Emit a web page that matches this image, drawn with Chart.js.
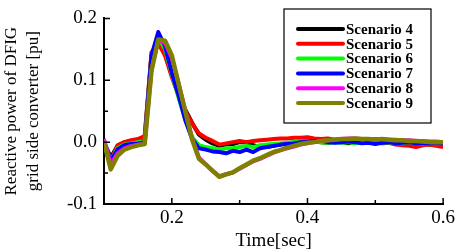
<!DOCTYPE html>
<html>
<head>
<meta charset="utf-8">
<script src="https://cdn.jsdelivr.net/npm/chart.js@4.4.1/dist/chart.umd.min.js"></script>
<style>
  html, body { margin: 0; padding: 0; background: #fff; }
  #wrap { width: 458px; height: 252px; }
</style>
</head>
<body>
<div id="wrap"><canvas id="qChart" width="458" height="252"></canvas></div>
<script>
// time axis [sec]
var timeSec = [0.10, 0.11, 0.12, 0.13, 0.14, 0.15, 0.16, 0.17, 0.18, 0.19,
               0.20, 0.21, 0.22, 0.23, 0.24, 0.25, 0.26, 0.27, 0.28, 0.29,
               0.30, 0.31, 0.32, 0.33, 0.34, 0.35, 0.36, 0.37, 0.38, 0.39,
               0.40, 0.41, 0.42, 0.43, 0.44, 0.45, 0.46, 0.47, 0.48, 0.49,
               0.50, 0.51, 0.52, 0.53, 0.54, 0.55, 0.56, 0.57, 0.58, 0.59, 0.60];

var scenarioNames = ['Scenario 4', 'Scenario 5', 'Scenario 6', 'Scenario 7', 'Scenario 8', 'Scenario 9'];
var scenarioColors = ['#000000', '#ff0000', '#00ff00', '#0000ff', '#ff00ff', '#808000'];

// reactive power of grid side converter [pu]
var scenario4 = [0.000, -0.025, -0.006, 0.000, 0.002, 0.004, 0.008, 0.140, 0.162, 0.142,
                 0.108, 0.078, 0.052, 0.031, 0.012, 0.004, -0.002, -0.006, -0.004, -0.003,
                 0.000, 0.000, -0.005, -0.008, -0.008, -0.006, -0.004, -0.002, 0.000, 0.001,
                 0.002, 0.001, 0.000, -0.001, 0.001, 0.000, -0.002, 0.000, 0.001, -0.001,
                 0.000, -0.002, -0.001, 0.000, -0.002, -0.003, -0.001, -0.002, -0.004, -0.003, -0.005];
var scenario5 = [0.000, -0.030, -0.005, 0.000, 0.003, 0.005, 0.010, 0.145, 0.160, 0.140,
                 0.105, 0.075, 0.050, 0.030, 0.014, 0.007, 0.002, -0.004, -0.002, 0.000,
                 0.002, 0.000, 0.002, 0.003, 0.004, 0.005, 0.006, 0.006, 0.007, 0.007,
                 0.008, 0.006, 0.005, 0.006, 0.004, 0.005, 0.003, 0.004, 0.002, 0.000,
                 -0.002, 0.000, -0.001, -0.004, -0.005, -0.006, -0.008, -0.005, -0.004, -0.006, -0.008];
var scenario6 = [0.000, -0.030, -0.010, -0.004, -0.002, 0.000, 0.002, 0.138, 0.170, 0.150,
                 0.110, 0.072, 0.036, 0.008, -0.005, -0.008, -0.010, -0.012, -0.010, -0.010,
                 -0.008, -0.006, -0.008, -0.005, -0.004, -0.003, -0.002, -0.001, 0.000, 0.001,
                 0.002, 0.001, 0.000, -0.001, 0.000, -0.001, 0.000, -0.002, -0.001, 0.000,
                 -0.002, -0.001, 0.000, -0.001, -0.002, 0.000, -0.001, -0.002, -0.001, -0.002, -0.001];
var scenario7 = [0.000, -0.030, -0.012, -0.005, -0.003, -0.002, 0.000, 0.140, 0.178, 0.155,
                 0.112, 0.075, 0.035, 0.005, -0.010, -0.012, -0.015, -0.016, -0.018, -0.014,
                 -0.016, -0.012, -0.016, -0.010, -0.008, -0.006, -0.004, -0.003, -0.002, 0.000,
                 0.001, 0.002, 0.002, 0.000, -0.001, 0.000, 0.001, 0.000, -0.002, -0.001,
                 -0.003, -0.001, 0.000, -0.002, -0.001, 0.000, -0.002, -0.001, -0.002, -0.001, -0.002];
var scenario8 = [0.005, -0.036, -0.018, -0.010, -0.006, -0.004, -0.002, 0.118, 0.164, 0.160,
                 0.136, 0.095, 0.050, 0.006, -0.025, -0.036, -0.047, -0.055, -0.052, -0.049,
                 -0.043, -0.037, -0.031, -0.027, -0.022, -0.017, -0.013, -0.010, -0.007, -0.004,
                 -0.002, 0.000, 0.002, 0.003, 0.004, 0.005, 0.006, 0.006, 0.005, 0.005,
                 0.005, 0.005, 0.004, 0.004, 0.003, 0.003, 0.002, 0.002, 0.001, 0.001, 0.000];
var scenario9 = [0.000, -0.044, -0.022, -0.012, -0.008, -0.005, -0.003, 0.115, 0.166, 0.164,
                 0.140, 0.094, 0.049, 0.004, -0.027, -0.036, -0.046, -0.056, -0.052, -0.049,
                 -0.042, -0.036, -0.030, -0.026, -0.021, -0.016, -0.013, -0.009, -0.006, -0.003,
                 -0.001, 0.000, 0.002, 0.003, 0.004, 0.005, 0.005, 0.006, 0.005, 0.005,
                 0.004, 0.005, 0.004, 0.003, 0.003, 0.002, 0.002, 0.001, 0.000, 0.000, 0.000];

var xTickLabels = [0.2, 0.4, 0.6];
var xMinorTicks = [0.3, 0.5];
var yTickLabels = [-0.1, 0.0, 0.1, 0.2];
var yMinorTicks = [-0.05, 0.05, 0.15];

var allSeries = [scenario4, scenario5, scenario6, scenario7, scenario8, scenario9];

var datasets = allSeries.map(function (vals, i) {
  return {
    label: scenarioNames[i],
    data: vals.map(function (v, k) { return { x: timeSec[k], y: v }; }),
    borderColor: scenarioColors[i],
    backgroundColor: scenarioColors[i],
    borderWidth: i === 5 ? 4.5 : 4,
    pointRadius: 0,
    tension: 0,
    borderJoinStyle: 'round',
    order: allSeries.length - i   // later scenarios on top
  };
});

// inward tick marks on the left and bottom axes
var innerTicks = {
  id: 'innerTicks',
  afterDraw: function (chart) {
    var ctx = chart.ctx, xs = chart.scales.x, ys = chart.scales.y, a = chart.chartArea;
    ctx.save();
    ctx.strokeStyle = '#000';
    ctx.lineWidth = 1.5;
    ctx.beginPath();
    xTickLabels.forEach(function (v) { var p = xs.getPixelForValue(v); ctx.moveTo(p, a.bottom); ctx.lineTo(p, a.bottom - 6); });
    xMinorTicks.forEach(function (v) { var p = xs.getPixelForValue(v); ctx.moveTo(p, a.bottom); ctx.lineTo(p, a.bottom - 4); });
    yTickLabels.forEach(function (v) { var p = ys.getPixelForValue(v); ctx.moveTo(a.left, p); ctx.lineTo(a.left + 6, p); });
    yMinorTicks.forEach(function (v) { var p = ys.getPixelForValue(v); ctx.moveTo(a.left, p); ctx.lineTo(a.left + 4, p); });
    ctx.stroke();
    ctx.restore();
  }
};

// boxed legend inside the plot, top right
var boxLegend = {
  id: 'boxLegend',
  afterDraw: function (chart) {
    var ctx = chart.ctx;
    var bx = 284, by = 9, bw = 147, bh = 114;
    ctx.save();
    ctx.fillStyle = '#fff';
    ctx.fillRect(bx, by, bw, bh);
    ctx.strokeStyle = '#000';
    ctx.lineWidth = 1.2;
    ctx.strokeRect(bx, by, bw, bh);
    ctx.font = 'bold 15px "Liberation Serif", serif';
    ctx.textBaseline = 'middle';
    chart.data.datasets.forEach(function (ds, i) {
      var y = 29 + i * 14.8;
      ctx.strokeStyle = ds.borderColor;
      ctx.lineWidth = 4;
      ctx.lineCap = 'round';
      ctx.beginPath();
      ctx.moveTo(298, y);
      ctx.lineTo(343, y);
      ctx.stroke();
      ctx.fillStyle = '#000';
      ctx.fillText(ds.label, 346, y + 1);
    });
    ctx.restore();
  }
};

var ctx = document.getElementById('qChart').getContext('2d');
var chart = new Chart(ctx, {
  type: 'line',
  data: { datasets: datasets },
  plugins: [innerTicks, boxLegend],
  options: {
    responsive: false,
    animation: false,
    layout: { padding: { left: 0, right: 12, top: 7, bottom: 0 } },
    plugins: {
      legend: { display: false },
      tooltip: { enabled: false }
    },
    scales: {
      x: {
        type: 'linear',
        min: 0.1,
        max: 0.6,
        afterBuildTicks: function (scale) {
          scale.ticks = xTickLabels.map(function (v) { return { value: v }; });
        },
        afterFit: function (scale) { scale.height = 48; },
        grid: { display: false, drawTicks: false },
        border: { display: true, color: '#000', width: 2 },
        ticks: {
          color: '#000',
          padding: 3,
          maxRotation: 0,
          font: { family: '"Liberation Serif", serif', size: 19 },
          callback: function (v) { return v.toFixed(1); }
        },
        title: {
          display: true,
          text: 'Time[sec]',
          color: '#000',
          padding: { top: 0, bottom: 0 },
          font: { family: '"Liberation Serif", serif', size: 19 }
        }
      },
      y: {
        min: -0.1,
        max: 0.2,
        afterBuildTicks: function (scale) {
          scale.ticks = yTickLabels.map(function (v) { return { value: v }; });
        },
        afterFit: function (scale) { scale.width = 104; },
        grid: { display: false, drawTicks: false },
        border: { display: true, color: '#000', width: 2 },
        ticks: {
          color: '#000',
          padding: 7,
          font: { family: '"Liberation Serif", serif', size: 19 },
          callback: function (v) { return v.toFixed(1); }
        },
        title: {
          display: true,
          text: ['Reactive power of DFIG', 'grid side converter [pu]'],
          color: '#000',
          padding: { top: 0, bottom: 0 },
          font: { family: '"Liberation Serif", serif', size: 17, lineHeight: 1.3 }
        }
      }
    }
  }
});
</script>
</body>
</html>
